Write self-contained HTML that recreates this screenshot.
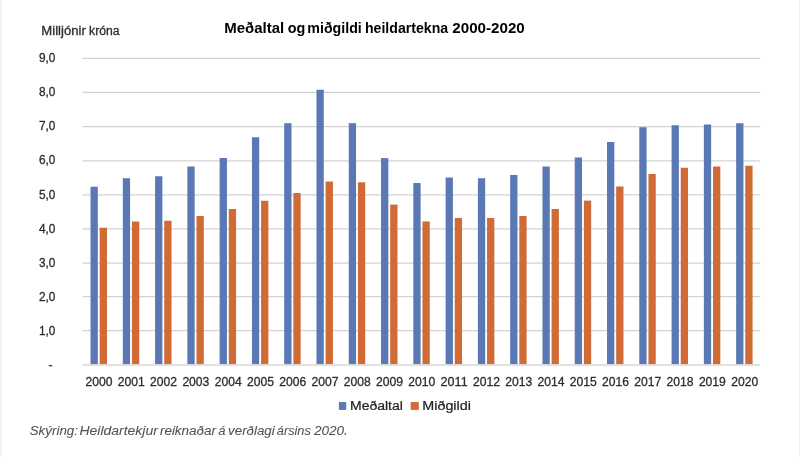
<!DOCTYPE html>
<html lang="is">
<head>
<meta charset="utf-8">
<title>Meðaltal og miðgildi heildartekna 2000-2020</title>
<style>
html,body{margin:0;padding:0;background:#fff;}
body{width:800px;height:457px;overflow:hidden;position:relative;}
svg{position:absolute;left:0;top:0;display:block;will-change:transform;}
text{font-family:"Liberation Sans",sans-serif;}
.ax{font-size:12.3px;fill:#2e2e2e;stroke:#2e2e2e;stroke-width:.3px;}
.ttl{font-size:14.3px;font-weight:bold;fill:#000;}
.yt{font-size:12px;}
.lg{font-size:12.5px;fill:#222222;stroke:#222222;stroke-width:.22px;}
.note{font-size:12.85px;font-style:italic;fill:#535353;stroke:#535353;stroke-width:.08px;}
</style>
</head>
<body>
<svg width="800" height="457" viewBox="0 0 800 457">
<defs>
<linearGradient id="lgr" x1="0" x2="1" y1="0" y2="0"><stop offset="0" stop-color="#ebebeb"/><stop offset="1" stop-color="#ffffff"/></linearGradient>
</defs>
<rect x="0" y="0" width="800" height="457" fill="#ffffff"/>
<rect x="0" y="0" width="2.1" height="457" fill="url(#lgr)"/>
<rect x="799" y="0" width="1" height="457" fill="#f2f2f2"/>

<g stroke="#d3d3d3" stroke-width="1.25">
<line x1="82.4" x2="760.2" y1="58.45" y2="58.45"/>
<line x1="82.4" x2="760.2" y1="92.45" y2="92.45"/>
<line x1="82.4" x2="760.2" y1="126.50" y2="126.50"/>
<line x1="82.4" x2="760.2" y1="160.75" y2="160.75"/>
<line x1="82.4" x2="760.2" y1="194.85" y2="194.85"/>
<line x1="82.4" x2="760.2" y1="228.90" y2="228.90"/>
<line x1="82.4" x2="760.2" y1="263.00" y2="263.00"/>
<line x1="82.4" x2="760.2" y1="296.60" y2="296.60"/>
<line x1="82.4" x2="760.2" y1="330.60" y2="330.60"/>
</g>
<g fill="#5a78b4">
<rect x="90.52" y="186.75" width="7.30" height="177.55"/>
<rect x="122.80" y="178.25" width="7.30" height="186.05"/>
<rect x="155.08" y="176.25" width="7.30" height="188.05"/>
<rect x="187.36" y="166.50" width="7.30" height="197.80"/>
<rect x="219.64" y="158.00" width="7.30" height="206.30"/>
<rect x="251.92" y="137.25" width="7.30" height="227.05"/>
<rect x="284.20" y="123.20" width="7.30" height="241.10"/>
<rect x="316.48" y="89.70" width="7.30" height="274.60"/>
<rect x="348.76" y="123.20" width="7.30" height="241.10"/>
<rect x="381.04" y="158.10" width="7.30" height="206.20"/>
<rect x="413.32" y="183.00" width="7.30" height="181.30"/>
<rect x="445.61" y="177.50" width="7.30" height="186.80"/>
<rect x="477.89" y="178.25" width="7.30" height="186.05"/>
<rect x="510.17" y="175.00" width="7.30" height="189.30"/>
<rect x="542.45" y="166.50" width="7.30" height="197.80"/>
<rect x="574.73" y="157.50" width="7.30" height="206.80"/>
<rect x="607.01" y="142.00" width="7.30" height="222.30"/>
<rect x="639.29" y="127.25" width="7.30" height="237.05"/>
<rect x="671.57" y="125.25" width="7.30" height="239.05"/>
<rect x="703.85" y="124.50" width="7.30" height="239.80"/>
<rect x="736.13" y="123.25" width="7.30" height="241.05"/>
</g>
<g fill="#d06b35">
<rect x="99.67" y="227.75" width="7.30" height="136.55"/>
<rect x="131.95" y="221.50" width="7.30" height="142.80"/>
<rect x="164.23" y="220.75" width="7.30" height="143.55"/>
<rect x="196.51" y="216.00" width="7.30" height="148.30"/>
<rect x="228.79" y="209.00" width="7.30" height="155.30"/>
<rect x="261.07" y="200.75" width="7.30" height="163.55"/>
<rect x="293.35" y="193.00" width="7.30" height="171.30"/>
<rect x="325.63" y="181.50" width="7.30" height="182.80"/>
<rect x="357.91" y="182.30" width="7.30" height="182.00"/>
<rect x="390.19" y="204.60" width="7.30" height="159.70"/>
<rect x="422.47" y="221.50" width="7.30" height="142.80"/>
<rect x="454.76" y="218.00" width="7.30" height="146.30"/>
<rect x="487.04" y="218.00" width="7.30" height="146.30"/>
<rect x="519.32" y="216.00" width="7.30" height="148.30"/>
<rect x="551.60" y="209.00" width="7.30" height="155.30"/>
<rect x="583.88" y="200.60" width="7.30" height="163.70"/>
<rect x="616.16" y="186.50" width="7.30" height="177.80"/>
<rect x="648.44" y="174.00" width="7.30" height="190.30"/>
<rect x="680.72" y="167.75" width="7.30" height="196.55"/>
<rect x="713.00" y="166.50" width="7.30" height="197.80"/>
<rect x="745.28" y="165.75" width="7.30" height="198.55"/>
</g>
<line x1="82.4" x2="760.2" y1="364.95" y2="364.95" stroke="#d7d7d7" stroke-width="1.55"/>
<g class="ax">
<text x="38.95" y="61.75" textLength="16.5" lengthAdjust="spacingAndGlyphs">9,0</text>
<text x="38.95" y="95.94" textLength="16.5" lengthAdjust="spacingAndGlyphs">8,0</text>
<text x="38.95" y="130.13" textLength="16.5" lengthAdjust="spacingAndGlyphs">7,0</text>
<text x="38.95" y="164.32" textLength="16.5" lengthAdjust="spacingAndGlyphs">6,0</text>
<text x="38.95" y="198.51" textLength="16.5" lengthAdjust="spacingAndGlyphs">5,0</text>
<text x="38.95" y="232.70" textLength="16.5" lengthAdjust="spacingAndGlyphs">4,0</text>
<text x="38.95" y="266.89" textLength="16.5" lengthAdjust="spacingAndGlyphs">3,0</text>
<text x="38.95" y="301.08" textLength="16.5" lengthAdjust="spacingAndGlyphs">2,0</text>
<text x="38.95" y="335.27" textLength="16.5" lengthAdjust="spacingAndGlyphs">1,0</text>
<text x="48.4" y="368.6">-</text>
</g>
<g class="ax" text-anchor="middle">
<text x="99.04" y="386" textLength="27.0" lengthAdjust="spacingAndGlyphs">2000</text>
<text x="131.32" y="386" textLength="27.0" lengthAdjust="spacingAndGlyphs">2001</text>
<text x="163.60" y="386" textLength="27.0" lengthAdjust="spacingAndGlyphs">2002</text>
<text x="195.88" y="386" textLength="27.0" lengthAdjust="spacingAndGlyphs">2003</text>
<text x="228.16" y="386" textLength="27.0" lengthAdjust="spacingAndGlyphs">2004</text>
<text x="260.45" y="386" textLength="27.0" lengthAdjust="spacingAndGlyphs">2005</text>
<text x="292.73" y="386" textLength="27.0" lengthAdjust="spacingAndGlyphs">2006</text>
<text x="325.01" y="386" textLength="27.0" lengthAdjust="spacingAndGlyphs">2007</text>
<text x="357.29" y="386" textLength="27.0" lengthAdjust="spacingAndGlyphs">2008</text>
<text x="389.57" y="386" textLength="27.0" lengthAdjust="spacingAndGlyphs">2009</text>
<text x="421.85" y="386" textLength="27.0" lengthAdjust="spacingAndGlyphs">2010</text>
<text x="454.13" y="386" textLength="27.0" lengthAdjust="spacingAndGlyphs">2011</text>
<text x="486.41" y="386" textLength="27.0" lengthAdjust="spacingAndGlyphs">2012</text>
<text x="518.69" y="386" textLength="27.0" lengthAdjust="spacingAndGlyphs">2013</text>
<text x="550.97" y="386" textLength="27.0" lengthAdjust="spacingAndGlyphs">2014</text>
<text x="583.25" y="386" textLength="27.0" lengthAdjust="spacingAndGlyphs">2015</text>
<text x="615.54" y="386" textLength="27.0" lengthAdjust="spacingAndGlyphs">2016</text>
<text x="647.82" y="386" textLength="27.0" lengthAdjust="spacingAndGlyphs">2017</text>
<text x="680.10" y="386" textLength="27.0" lengthAdjust="spacingAndGlyphs">2018</text>
<text x="712.38" y="386" textLength="27.0" lengthAdjust="spacingAndGlyphs">2019</text>
<text x="744.66" y="386" textLength="27.0" lengthAdjust="spacingAndGlyphs">2020</text>
</g>
<text class="ax yt" y="35.20"><tspan x="41.33" textLength="44.44" lengthAdjust="spacingAndGlyphs">Milljónir</tspan> <tspan x="89.12" textLength="30.50" lengthAdjust="spacingAndGlyphs">króna</tspan></text>
<text class="ttl" y="32.50"><tspan x="224.28" textLength="60.01" lengthAdjust="spacingAndGlyphs">Meðaltal</tspan> <tspan x="287.70" textLength="17.59" lengthAdjust="spacingAndGlyphs">og</tspan> <tspan x="307.35" textLength="54.48" lengthAdjust="spacingAndGlyphs">miðgildi</tspan> <tspan x="364.93" textLength="83.27" lengthAdjust="spacingAndGlyphs">heildartekna</tspan> <tspan x="452.38" textLength="72.37" lengthAdjust="spacingAndGlyphs">2000-2020</tspan></text>
<rect x="338.9" y="402.05" width="7.3" height="7.85" fill="#5a78b4"/>
<text class="lg" y="409.80"><tspan x="350.00" textLength="52.84" lengthAdjust="spacingAndGlyphs">Meðaltal</tspan></text>
<rect x="410.7" y="402.05" width="8.1" height="7.85" fill="#d06b35"/>
<text class="lg" y="409.80"><tspan x="422.33" textLength="48.56" lengthAdjust="spacingAndGlyphs">Miðgildi</tspan></text>
<text class="note" y="435.10"><tspan x="29.69" textLength="48.33" lengthAdjust="spacingAndGlyphs">Skýring:</tspan> <tspan x="79.43" textLength="78.42" lengthAdjust="spacingAndGlyphs">Heildartekjur</tspan> <tspan x="159.90" textLength="56.20" lengthAdjust="spacingAndGlyphs">reiknaðar</tspan> <tspan x="218.39" textLength="7.26" lengthAdjust="spacingAndGlyphs">á</tspan> <tspan x="228.09" textLength="46.66" lengthAdjust="spacingAndGlyphs">verðlagi</tspan> <tspan x="276.82" textLength="33.96" lengthAdjust="spacingAndGlyphs">ársins</tspan> <tspan x="314.00" textLength="33.90" lengthAdjust="spacingAndGlyphs">2020.</tspan></text>
</svg>
</body>
</html>
